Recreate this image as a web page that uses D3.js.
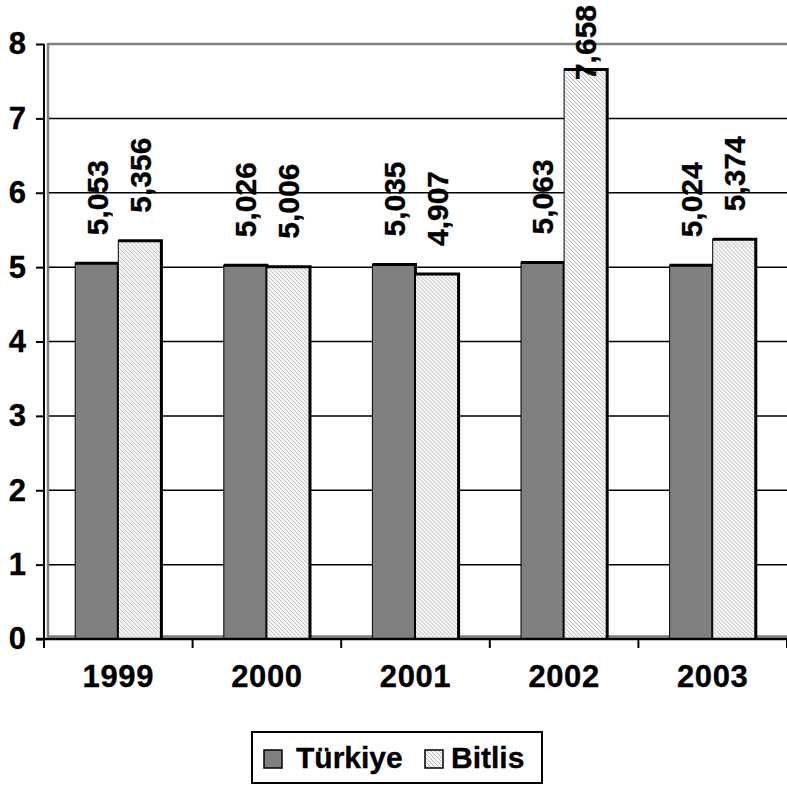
<!DOCTYPE html>
<html>
<head>
<meta charset="utf-8">
<script src="https://cdn.jsdelivr.net/npm/d3@7"></script>
<style>
  html, body { margin: 0; padding: 0; background: #fff; }
  svg { display: block; }
  text { font-family: "Liberation Sans", Arial, sans-serif; font-weight: bold; fill: #000; stroke: #000; stroke-width: 0.35px; }
</style>
</head>
<body>
<svg id="chart" width="787" height="785"></svg>
<script>
const categories = ["1999", "2000", "2001", "2002", "2003"];
const seriesNames = ["Türkiye", "Bitlis"];
const turkiye = [5.053, 5.026, 5.035, 5.063, 5.024];
const bitlis = [5.356, 5.006, 4.907, 7.658, 5.374];
const yTicks = [0, 1, 2, 3, 4, 5, 6, 7, 8];
const fmt = v => v.toFixed(3).replace(".", ",");

(function () {
const svg = d3.select("#chart");
const W = 787;
const pLeft = 44, pRight = 787, pTop = 44, pBottom = 639;

const defs = svg.append("defs");
const pat = defs.append("pattern")
  .attr("id", "hatch").attr("patternUnits", "userSpaceOnUse")
  .attr("width", 4).attr("height", 4);
pat.append("rect").attr("width", 4).attr("height", 4).attr("fill", "#f6f6f6");
pat.append("path").attr("d", "M-1,-1 L5,5 M-1,3 L1,5 M3,-1 L5,1")
  .attr("stroke", "#bdbdbd").attr("stroke-width", 1);

const y = d3.scaleLinear().domain([0, 8]).range([pBottom, pTop]);
const x0 = d3.scaleBand().domain(categories).range([pLeft, pRight])
  .paddingInner(0.42).paddingOuter(0.21);
const x1 = d3.scaleBand().domain(seriesNames).range([0, x0.bandwidth()]);
const step = x0.step();

// plot area border (gray)
svg.append("rect")
  .attr("x", pLeft + 4).attr("y", pTop).attr("width", W)
  .attr("height", pBottom - pTop - 2.5)
  .attr("fill", "#fff").attr("stroke", "#808080").attr("stroke-width", 2.5);

// gridlines
svg.append("g").selectAll("line").data(yTicks.filter(t => t > 0 && t < 8)).join("line")
  .attr("x1", pLeft + 5).attr("x2", pRight)
  .attr("y1", d => y(d)).attr("y2", d => y(d))
  .attr("stroke", "#000").attr("stroke-width", 1.5);

// bars
const data = categories.map((c, i) => ({ cat: c, vals: [
  { cat: c, s: "Türkiye", v: turkiye[i] }, { cat: c, s: "Bitlis", v: bitlis[i] } ] }));
const fills = { "Türkiye": "#808080", "Bitlis": "url(#hatch)" };

const groups = svg.append("g").selectAll("g").data(data).join("g")
  .attr("transform", d => `translate(${x0(d.cat)},0)`);
const bars = groups.selectAll("g.bar").data(d => d.vals).join("g").attr("class", "bar");
bars.append("rect")
  .attr("x", d => x1(d.s)).attr("y", d => y(d.v))
  .attr("width", x1.bandwidth()).attr("height", d => y(0) - y(d.v))
  .attr("fill", d => fills[d.s]).attr("stroke", "#000").attr("stroke-width", 1);
bars.append("path")
  .attr("d", d => `M${x1(d.s)},${y(d.v)} H${x1(d.s) + x1.bandwidth()} V${y(0)}`)
  .attr("fill", "none").attr("stroke", "#000").attr("stroke-width", 3);

// value labels (rotated)
const labels = bars.append("text")
  .attr("font-size", 30)
  .attr("dy", "0.36em")
  .attr("text-anchor", "start")
  .text(d => fmt(d.v));
labels.each(function (d) {
  const len = this.getComputedTextLength();
  const cx = x1(d.s) + x1.bandwidth() / 2;
  const by = Math.max(y(d.v) - 28, 5 + len);
  d3.select(this).attr("transform", `translate(${cx},${by}) rotate(-90)`);
});

// axes lines
svg.append("line").attr("x1", pLeft).attr("x2", pLeft).attr("y1", pTop).attr("y2", pBottom + 9)
  .attr("stroke", "#000").attr("stroke-width", 2);
svg.append("line").attr("x1", pLeft - 8).attr("x2", pRight).attr("y1", pBottom).attr("y2", pBottom)
  .attr("stroke", "#000").attr("stroke-width", 2.5);

// y axis
const yAxis = d3.axisLeft(y).tickValues(yTicks).tickSize(8).tickPadding(10).tickFormat(d3.format("d"));
const gy = svg.append("g").attr("transform", `translate(${pLeft},0)`).call(yAxis);
gy.select(".domain").remove();
gy.selectAll(".tick line").attr("stroke", "#000").attr("stroke-width", 2);
gy.selectAll(".tick text").attr("font-size", 31).attr("font-family", "Liberation Sans, Arial, sans-serif")
  .attr("font-weight", "bold").attr("fill", "#000");

// x axis ticks at boundaries
const bounds = d3.range(categories.length + 1).map(i => pLeft + i * step);
svg.append("g").selectAll("line").data(bounds).join("line")
  .attr("x1", d => d).attr("x2", d => d).attr("y1", pBottom).attr("y2", pBottom + 9)
  .attr("stroke", "#000").attr("stroke-width", 2);
svg.append("g").selectAll("text").data(categories).join("text")
  .attr("x", d => x0(d) + x0.bandwidth() / 2).attr("y", 687)
  .attr("text-anchor", "middle").attr("font-size", 31).attr("letter-spacing", 0.6).text(d => d);

// legend
const lg = svg.append("g");
lg.append("rect").attr("x", 252).attr("y", 732).attr("width", 290).attr("height", 51)
  .attr("fill", "#fff").attr("stroke", "#000").attr("stroke-width", 2);
const items = [
  { s: "Türkiye", sx: 264, tx: 296 },
  { s: "Bitlis", sx: 425, tx: 451 }
];
items.forEach(it => {
  lg.append("rect").attr("x", it.sx).attr("y", 750).attr("width", 18).attr("height", 18)
    .attr("fill", fills[it.s]).attr("stroke", "#000").attr("stroke-width", 1.5);
  lg.append("text").attr("x", it.tx).attr("y", 768).attr("font-size", 30).text(it.s);
});
})();
</script>
</body>
</html>
